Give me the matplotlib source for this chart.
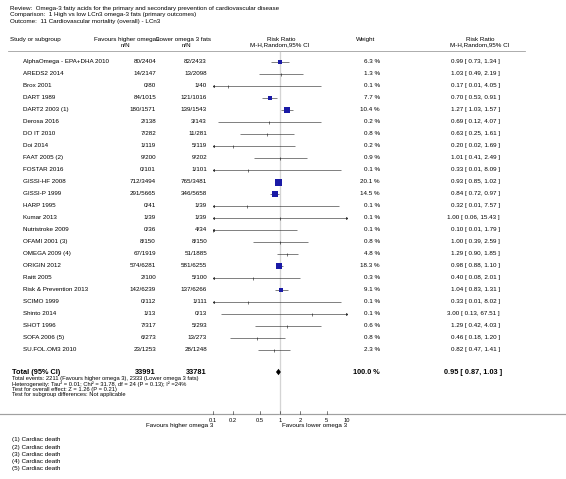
import matplotlib.pyplot as plt
import numpy as np

plt.rcParams['font.family'] = ['Liberation Sans', 'DejaVu Sans']

# --- Data ---------------------------------------------------------------------

title_lines = [
    "Review:  Omega-3 fatty acids for the primary and secondary prevention of cardiovascular disease",
    "Comparison:  1 High vs low LCn3 omega-3 fats (primary outcomes)",
    "Outcome:  11 Cardiovascular mortality (overall) - LCn3",
]

studies = [
    "AlphaOmega - EPA+DHA 2010", "AREDS2 2014", "Brox 2001", "DART 1989", "DART2 2003 (1)",
    "Derosa 2016", "DO IT 2010", "Doi 2014", "FAAT 2005 (2)", "FOSTAR 2016",
    "GISSI-HF 2008", "GISSI-P 1999", "HARP 1995", "Kumar 2013", "Nutristroke 2009",
    "OFAMI 2001 (3)", "OMEGA 2009 (4)", "ORIGIN 2012", "Raitt 2005", "Risk & Prevention 2013",
    "SCIMO 1999", "Shinto 2014", "SHOT 1996", "SOFA 2006 (5)", "SU.FOL.OM3 2010",
]
events_high = [80, 14, 0, 84, 180, 2, 7, 1, 9, 0, 712, 291, 0, 1, 0, 8, 67, 574, 2, 142, 0, 1, 7, 6, 23]
n_high = [2404, 2147, 80, 1015, 1571, 138, 282, 119, 200, 101, 3494, 5665, 41, 39, 36,
          150, 1919, 6281, 100, 6239, 112, 13, 317, 273, 1253]
events_low = [82, 13, 1, 121, 139, 3, 11, 5, 9, 1, 765, 346, 1, 1, 4, 8, 51, 581, 5, 137, 1, 0, 5, 13, 28]
n_low = [2433, 2098, 40, 1016, 1543, 143, 281, 119, 202, 101, 3481, 5658, 39, 39, 34,
         150, 1885, 6255, 100, 6266, 111, 13, 293, 273, 1248]
weights = [6.3, 1.3, 0.1, 7.7, 10.4, 0.2, 0.8, 0.2, 0.9, 0.1, 20.1, 14.5, 0.1, 0.1, 0.1,
           0.8, 4.8, 18.3, 0.3, 9.1, 0.1, 0.1, 0.6, 0.8, 2.3]
rr = [0.99, 1.03, 0.17, 0.70, 1.27, 0.69, 0.63, 0.20, 1.01, 0.33, 0.93, 0.84, 0.32, 1.00, 0.10,
      1.00, 1.29, 0.98, 0.40, 1.04, 0.33, 3.00, 1.29, 0.46, 0.82]
ci_low = [0.73, 0.49, 0.01, 0.53, 1.03, 0.12, 0.25, 0.02, 0.41, 0.01, 0.85, 0.72, 0.01, 0.06, 0.01,
          0.39, 0.90, 0.88, 0.08, 0.83, 0.01, 0.13, 0.42, 0.18, 0.47]
ci_high = [1.34, 2.19, 4.05, 0.91, 1.57, 4.07, 1.61, 1.69, 2.49, 8.09, 1.02, 0.97, 7.57, 15.43, 1.79,
           2.59, 1.85, 1.10, 2.01, 1.31, 8.02, 67.51, 4.03, 1.20, 1.41]

pooled_rr, pooled_low, pooled_high = 0.95, 0.87, 1.03
pooled_n_high, pooled_n_low = "33991", "33781"
summary_lines = [
    "Total events: 2211 (Favours higher omega 3), 2333 (Lower omega 3 fats)",
    "Heterogeneity: Tau\u00b2 = 0.01; Chi\u00b2 = 31.78, df = 24 (P = 0.13); I\u00b2 =24%",
    "Test for overall effect: Z = 1.26 (P = 0.21)",
    "Test for subgroup differences: Not applicable",
]
axis_ticks = [0.1, 0.2, 0.5, 1, 2, 5, 10]
axis_labels = ["0.1", "0.2", "0.5", "1", "2", "5", "10"]
footnotes = ["Cardiac death"] * 5

# --- Layout (pixel grid) ------------------------------------------------------

W, H = 566, 479
FS = 6.2
FSB = 7.4
x_name, x_nhigh, x_nlow, x_weight, x_ci = 23, 156, 207, 380, 500
x_left_px, x_right_px = 213, 347          # 0.1 .. 10 on the forest axis
row_y = 61.5 + 12.0 * np.arange(len(studies))
total_y = 372
axis_y = 414

fig = plt.figure(figsize=(W / 72, H / 72), dpi=72)
bg = fig.add_axes([0, 0, 1, 1])
bg.set_xlim(0, W)
bg.set_ylim(H, 0)
bg.axis("off")

fp = fig.add_axes([x_left_px / W, 0, (x_right_px - x_left_px) / W, 1])
fp.set_xscale("log")
fp.set_xlim(0.1, 10)
fp.set_ylim(H, 0)
fp.axis("off")

# header
for i, line in enumerate(title_lines):
    bg.text(10, 8.5 + 6.3 * i, line, fontsize=FS, va="center")

hy1, hy2 = 39, 45
bg.text(10, hy1, "Study or subgroup", fontsize=FS, va="center")
bg.text(127, hy1, "Favours higher omega3", fontsize=FS, va="center", ha="center")
bg.text(184, hy1, "Lower omega 3 fats", fontsize=FS, va="center", ha="center")
bg.text(125, hy2, "n/N", fontsize=FS, va="center", ha="center")
bg.text(186, hy2, "n/N", fontsize=FS, va="center", ha="center")
bg.text(281, hy1, "Risk Ratio", fontsize=FS, va="center", ha="center")
bg.text(280, hy2, "M-H,Random,95% CI", fontsize=FS, va="center", ha="center")
bg.text(366, hy1, "Weight", fontsize=FS, va="center", ha="center")
bg.text(480, hy1, "Risk Ratio", fontsize=FS, va="center", ha="center")
bg.text(480, hy2, "M-H,Random,95% CI", fontsize=FS, va="center", ha="center")
bg.plot([8, 525], [51, 51], color="#9a9a9a", lw=0.8)

# line of no effect
fp.plot([1, 1], [52, axis_y], color="#d4d4d4", lw=1.3, zorder=0)

# study rows
for i, y in enumerate(row_y):
    bg.text(x_name, y, studies[i], fontsize=FS, va="center")
    bg.text(x_nhigh, y, f"{events_high[i]}/{n_high[i]}", fontsize=FS, va="center", ha="right")
    bg.text(x_nlow, y, f"{events_low[i]}/{n_low[i]}", fontsize=FS, va="center", ha="right")
    bg.text(x_weight, y, f"{weights[i]:.1f} %", fontsize=FS, va="center", ha="right")
    bg.text(x_ci, y, f"{rr[i]:.2f} [ {ci_low[i]:.2f}, {ci_high[i]:.2f} ]",
            fontsize=FS, va="center", ha="right")

    lo = max(ci_low[i], 0.1)
    hi = min(ci_high[i], 10)
    fp.plot([lo, hi], [y, y], color="#303030", lw=0.6, solid_capstyle="butt")
    if ci_low[i] < 0.1:
        fp.plot(0.1, y, marker="<", ms=3, color="#303030", mew=0)
    if ci_high[i] > 10:
        fp.plot(10, y, marker=">", ms=3, color="#303030", mew=0)
    if weights[i] >= 5:
        side = 7.0 * np.sqrt(weights[i] / max(weights))
        fp.plot(rr[i], y, marker="s", ms=side, color="#1a1aa6", mew=0, zorder=3)
    else:
        fp.plot(rr[i], y, marker="|", ms=3, color="#202020", mew=0.6, zorder=3)

# pooled row
bg.text(12, total_y, "Total (95% CI)", fontsize=FSB, va="center", fontweight="bold")
bg.text(x_nhigh, total_y, pooled_n_high, fontsize=FSB, va="center", ha="right", fontweight="bold")
bg.text(x_nlow, total_y, pooled_n_low, fontsize=FSB, va="center", ha="right", fontweight="bold")
bg.text(x_weight, total_y, "100.0 %", fontsize=FSB, va="center", ha="right", fontweight="bold")
bg.text(x_ci + 2, total_y, f"{pooled_rr:.2f} [ {pooled_low:.2f}, {pooled_high:.2f} ]",
        fontsize=FSB, va="center", ha="right", fontweight="bold")
fp.fill([pooled_low, pooled_rr, pooled_high, pooled_rr],
        [total_y, total_y - 3.2, total_y, total_y + 3.2], color="black", lw=0)

for i, line in enumerate(summary_lines):
    bg.text(12, total_y + 6.5 + 5.4 * i, line, fontsize=FS - 0.4, va="center")

# bottom scale
bg.plot([0, W], [axis_y, axis_y], color="#a0a0a0", lw=1.2)
for t, lab in zip(axis_ticks, axis_labels):
    fp.plot([t, t], [axis_y - 0.5, axis_y - 3.5], color="black", lw=0.5)
    fp.text(t, axis_y + 6, lab, fontsize=FS - 0.4, va="center", ha="center")
fp.text(0.1, axis_y + 12, "Favours higher omega 3", fontsize=FS, va="center", ha="right")
bg.text(282, axis_y + 12, "Favours lower omega 3", fontsize=FS, va="center", ha="left")

# footnotes
for i, note in enumerate(footnotes):
    bg.text(12, 440 + 7.2 * i, f"({i + 1}) {note}", fontsize=FS, va="center")

fig.savefig("out.png", dpi=72)
